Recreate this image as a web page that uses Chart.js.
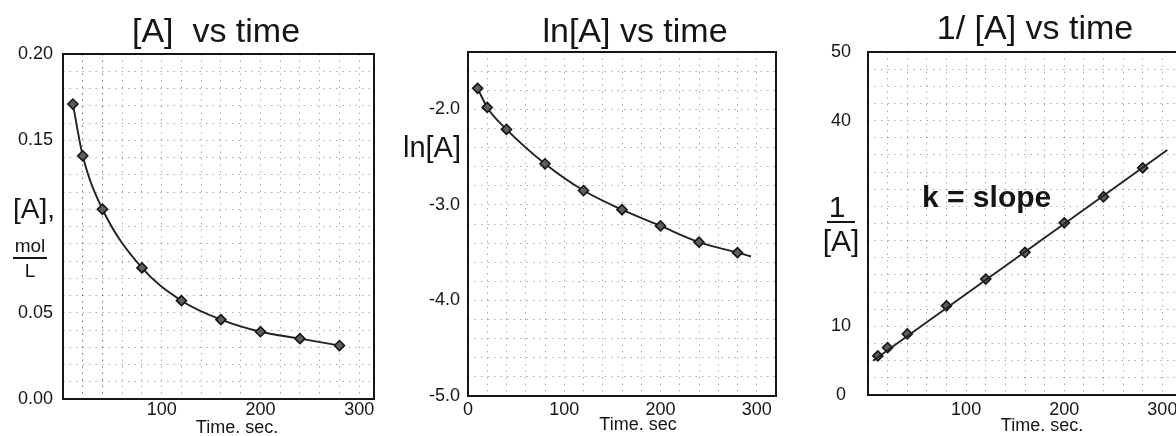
<!DOCTYPE html>
<html><head><meta charset="utf-8">
<script src="https://cdn.jsdelivr.net/npm/chart.js@4.4.0/dist/chart.umd.min.js"></script>
<style>
html,body{margin:0;padding:0;background:#fff;overflow:hidden;}
#wrap{position:relative;width:1176px;height:436px;overflow:hidden;background:#fff;}
canvas{position:absolute;top:0;}
</style></head><body>
<div id="wrap">
<canvas id="c1" width="390" height="436" style="left:0px"></canvas>
<canvas id="c2" width="410" height="436" style="left:380px"></canvas>
<canvas id="c3" width="420" height="436" style="left:780px"></canvas>
</div>
<script>
// ---- data ----
const times = [10, 20, 40, 80, 120, 160, 200, 240, 280];
const concA = [0.171, 0.141, 0.110, 0.076, 0.057, 0.046, 0.039, 0.035, 0.031];
const lnA = [-1.78, -1.98, -2.21, -2.57, -2.85, -3.05, -3.22, -3.39, -3.50];
const lnTailTime = [294];
const lnTailValue = [-3.54];
const invA = [5.7, 6.9, 8.9, 13.0, 16.9, 20.8, 25.1, 28.9, 33.1];
const fitTime = [5, 305];
const fitInvA = [5.0, 35.7];
// ---- tick labels ----
const xLabels1 = ['100', '200', '300'];
const xLabels2 = ['0', '100', '200', '300'];
const xLabels3 = ['100', '200', '300'];
const yLabels1 = ['0.00', '0.05', '0.15', '0.20'];
const yLabels2 = ['-5.0', '-4.0', '-3.0', '-2.0'];
const yLabels3 = ['0', '10', '40', '50'];

const FONT = "'Liberation Sans', Arial, Helvetica, sans-serif";
const GRID = 'rgba(0,0,0,0.32)';
const INK = '#151515';

const panelDecor = {
  id: 'panelDecor',
  afterDraw(chart, args, opts) {
    const ctx = chart.ctx, a = chart.chartArea;
    ctx.save();
    ctx.strokeStyle = INK; ctx.lineWidth = 2;
    ctx.strokeRect(a.left, a.top, a.right - a.left, a.bottom - a.top);
    ctx.fillStyle = INK;
    (opts.texts || []).forEach(tx => {
      ctx.font = tx.font; ctx.textAlign = tx.align || 'center'; ctx.textBaseline = 'alphabetic';
      ctx.fillText(tx.text, tx.x, tx.y);
    });
    (opts.rules || []).forEach(r => {
      ctx.beginPath(); ctx.lineWidth = 2; ctx.moveTo(r.x1, r.y); ctx.lineTo(r.x2, r.y); ctx.stroke();
    });
    ctx.restore();
  }
};

const pointStyleOpts = {
  pointStyle: 'rectRot', pointRadius: 5, pointBackgroundColor: '#5e5e5e',
  pointBorderColor: '#151515', pointBorderWidth: 1.6
};

// regular tick positions between lo and hi (gridline spacing)
function evenTicks(lo, hi, step, dec) {
  const out = [];
  const n = Math.round((hi - lo) / step);
  for (let i = 0; i <= n; i++) out.push({ value: +(lo + i * step).toFixed(dec + 2) });
  return out;
}

function panel(id, cfg) {
  new Chart(document.getElementById(id), {
    type: 'line',
    data: { datasets: cfg.datasets },
    options: {
      responsive: false, animation: false, devicePixelRatio: 1,
      layout: { padding: cfg.padding },
      plugins: {
        legend: { display: false }, tooltip: { enabled: false }, title: { display: false },
        panelDecor: { texts: cfg.texts, rules: cfg.rules || [] }
      },
      scales: {
        x: {
          type: 'linear', min: cfg.xMin, max: cfg.xMax,
          afterFit: s => { s.height = cfg.xHeight; },
          afterBuildTicks: s => { s.ticks = evenTicks(0, 300, 20, 0); },
          grid: { color: cfg.xGridColor || GRID, lineWidth: 1, drawTicks: false },
          border: { display: false, dash: [1.5, 5] },
          ticks: {
            autoSkip: false, maxRotation: 0, minRotation: 0, padding: cfg.xPad,
            font: { family: FONT, size: 18 }, color: INK,
            callback: v => { const s = String(Math.round(v)); return cfg.xLabels.includes(s) ? s : ''; }
          }
        },
        y: {
          type: 'linear', min: cfg.yMin, max: cfg.yMax,
          afterFit: s => { s.width = cfg.yWidth; },
          afterBuildTicks: s => { s.ticks = evenTicks(cfg.yMin, cfg.yMax, cfg.yStep, cfg.yDec); },
          grid: { color: GRID, lineWidth: 1, drawTicks: false },
          border: { display: false, dash: [1.5, 5] },
          ticks: {
            autoSkip: false, padding: cfg.yPad, crossAlign: cfg.yCross || 'near',
            font: { family: FONT, size: 18 }, color: INK,
            callback: v => { const s = v.toFixed(cfg.yDec); return cfg.yLabels.includes(s) ? s : ''; }
          }
        }
      }
    },
    plugins: [panelDecor]
  });
}

// Panel 1: [A] vs time
panel('c1', {
  padding: { left: 0, right: 16, top: 54, bottom: 0 },
  yWidth: 63, xHeight: 37, xPad: 0, yPad: 10,
  xMin: 0, xMax: 315, yMin: 0, yMax: 0.20, yStep: 0.01, yDec: 2,
  xLabels: xLabels1, yLabels: yLabels1,
  xGridColor: ctx => (ctx.tick && (ctx.tick.value === 20 || ctx.tick.value === 40)) ? 'rgba(0,0,0,0.55)' : GRID,
  datasets: [{
    data: times.map((t, i) => ({ x: t, y: concA[i] })),
    borderColor: '#222', borderWidth: 1.9, cubicInterpolationMode: 'monotone', fill: false,
    ...pointStyleOpts
  }],
  texts: [
    { text: '[A]  vs time', x: 216, y: 42, font: `34px ${FONT}` },
    { text: '[A],', x: 13, y: 218, align: 'left', font: `28px ${FONT}` },
    { text: 'mol', x: 30, y: 252, font: `19px ${FONT}` },
    { text: 'L', x: 30, y: 277, font: `19px ${FONT}` },
    { text: 'Time. sec.', x: 237, y: 433, font: `18px ${FONT}` }
  ],
  rules: [{ x1: 13, x2: 47, y: 258 }]
});

// Panel 2: ln[A] vs time
panel('c2', {
  padding: { left: 0, right: 14, top: 52, bottom: 0 },
  yWidth: 88, xHeight: 40, xPad: 3, yPad: 8,
  xMin: 0, xMax: 320, yMin: -5, yMax: -1.4, yStep: 0.2, yDec: 1,
  xLabels: xLabels2, yLabels: yLabels2,
  datasets: [{
    data: times.map((t, i) => ({ x: t, y: lnA[i] }))
      .concat(lnTailTime.map((t, i) => ({ x: t, y: lnTailValue[i] }))),
    borderColor: '#222', borderWidth: 1.9, cubicInterpolationMode: 'monotone', fill: false,
    ...pointStyleOpts,
    pointRadius: times.map(() => 5).concat(lnTailTime.map(() => 0))
  }],
  texts: [
    { text: 'ln[A] vs time', x: 255, y: 42, font: `34px ${FONT}` },
    { text: 'ln[A]', x: 52, y: 157, font: `29px ${FONT}` },
    { text: 'Time. sec', x: 258, y: 430, font: `18px ${FONT}` }
  ]
});

// Panel 3: 1/[A] vs time
panel('c3', {
  padding: { left: 0, right: 18, top: 52, bottom: 0 },
  yWidth: 88, xHeight: 41, xPad: 4, yPad: 17, yCross: 'center',
  xMin: 0, xMax: 320, yMin: 0, yMax: 50, yStep: 2.5, yDec: 0,
  xLabels: xLabels3, yLabels: yLabels3,
  datasets: [
    {
      data: fitTime.map((t, i) => ({ x: t, y: fitInvA[i] })),
      borderColor: '#222', borderWidth: 1.9, pointRadius: 0, tension: 0, fill: false
    },
    {
      data: times.map((t, i) => ({ x: t, y: invA[i] })),
      showLine: false, ...pointStyleOpts
    }
  ],
  texts: [
    { text: '1/ [A] vs time', x: 255, y: 39, font: `34px ${FONT}` },
    { text: '1', x: 57, y: 217, font: `30px ${FONT}` },
    { text: '[A]', x: 61, y: 251, font: `30px ${FONT}` },
    { text: 'k = slope', x: 142, y: 207, align: 'left', font: `bold 30px ${FONT}` },
    { text: 'Time. sec.', x: 262, y: 431, font: `18px ${FONT}` }
  ],
  rules: [{ x1: 47, x2: 75, y: 222 }]
});
</script>
</body></html>
